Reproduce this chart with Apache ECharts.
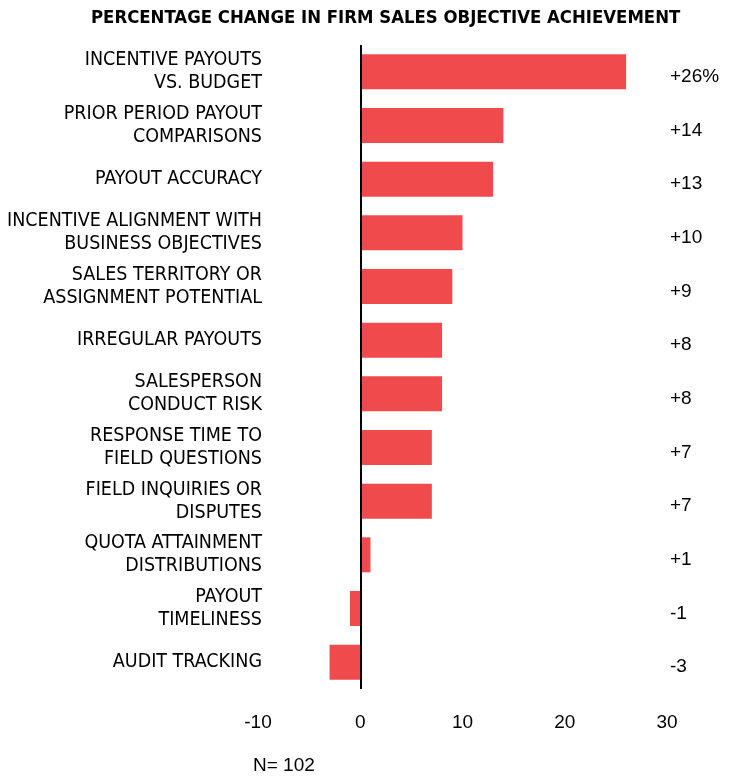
<!DOCTYPE html>
<html>
<head>
<meta charset="utf-8">
<script src="https://cdn.jsdelivr.net/npm/echarts@6/dist/echarts.min.js"></script>
<style>
  html, body { margin: 0; padding: 0; background: #fff; }
  #chart { width: 731px; height: 776px; }
</style>
</head>
<body>
<div id="chart"></div>
<script>
// Categories listed bottom-to-top (category axis draws the first entry at the bottom)
const categories = [
  'AUDIT TRACKING',
  'PAYOUT\nTIMELINESS',
  'QUOTA ATTAINMENT\nDISTRIBUTIONS',
  'FIELD INQUIRIES OR\nDISPUTES',
  'RESPONSE TIME TO\nFIELD QUESTIONS',
  'SALESPERSON\nCONDUCT RISK',
  'IRREGULAR PAYOUTS',
  'SALES TERRITORY OR\nASSIGNMENT POTENTIAL',
  'INCENTIVE ALIGNMENT WITH\nBUSINESS OBJECTIVES',
  'PAYOUT ACCURACY',
  'PRIOR PERIOD PAYOUT\nCOMPARISONS',
  'INCENTIVE PAYOUTS\nVS. BUDGET'
];
const changeValues = [-3, -1, 1, 7, 7, 8, 8, 9, 10, 13, 14, 26];
const xTicks = [-10, 0, 10, 20, 30];
const sampleNote = 'N= 102';

const valueLabels = changeValues.map((v, i) => {
  const s = (v > 0 ? '+' : '') + v;
  return i === changeValues.length - 1 ? s + '%' : s;
});

const condensed = '"DejaVu Sans Condensed", "Liberation Sans Narrow", "Roboto", sans-serif';

const chart = echarts.init(document.getElementById('chart'));
chart.setOption({
  animation: false,
  title: {
    text: 'PERCENTAGE CHANGE IN FIRM SALES OBJECTIVE ACHIEVEMENT',
    left: 86,
    top: 4,
    textStyle: {
      fontFamily: condensed,
      fontWeight: 'bold',
      fontSize: 18.4,
      color: '#000'
    }
  },
  graphic: [{
    type: 'text',
    left: 253,
    top: 756,
    style: {
      text: sampleNote,
      font: '19px "Liberation Sans"',
      fill: '#000'
    }
  }],
  grid: { left: 258, right: 64, top: 45, bottom: 87 },
  xAxis: {
    type: 'value',
    min: xTicks[0],
    max: xTicks[xTicks.length - 1],
    interval: 10,
    splitLine: { show: false },
    axisLine: { show: false },
    axisTick: { show: false },
    axisLabel: {
      margin: 24,
      fontFamily: 'Liberation Sans',
      fontSize: 19,
      color: '#000'
    }
  },
  yAxis: [{
    type: 'category',
    data: categories,
    position: 'left',
    axisLine: { show: false },
    axisTick: { show: false },
    axisLabel: {
      margin: -4,
      fontFamily: condensed,
      fontSize: 19.5,
      lineHeight: 23,
      color: '#000',
      align: 'right'
    }
  }, {
    type: 'category',
    data: valueLabels,
    position: 'right',
    axisLine: { show: false },
    axisTick: { show: false },
    axisLabel: {
      margin: 3,
      fontFamily: 'Liberation Sans',
      fontSize: 19,
      color: '#000',
      align: 'left',
      verticalAlign: 'top',
      lineHeight: 10
    }
  }],
  series: [{
    type: 'bar',
    data: changeValues,
    barWidth: 35,
    itemStyle: { color: '#F04A4C' },
    markLine: {
      silent: true,
      symbol: 'none',
      label: { show: false },
      lineStyle: { color: '#000', width: 2, type: 'solid' },
      data: [{ xAxis: 0 }]
    }
  }]
});
</script>
</body>
</html>
